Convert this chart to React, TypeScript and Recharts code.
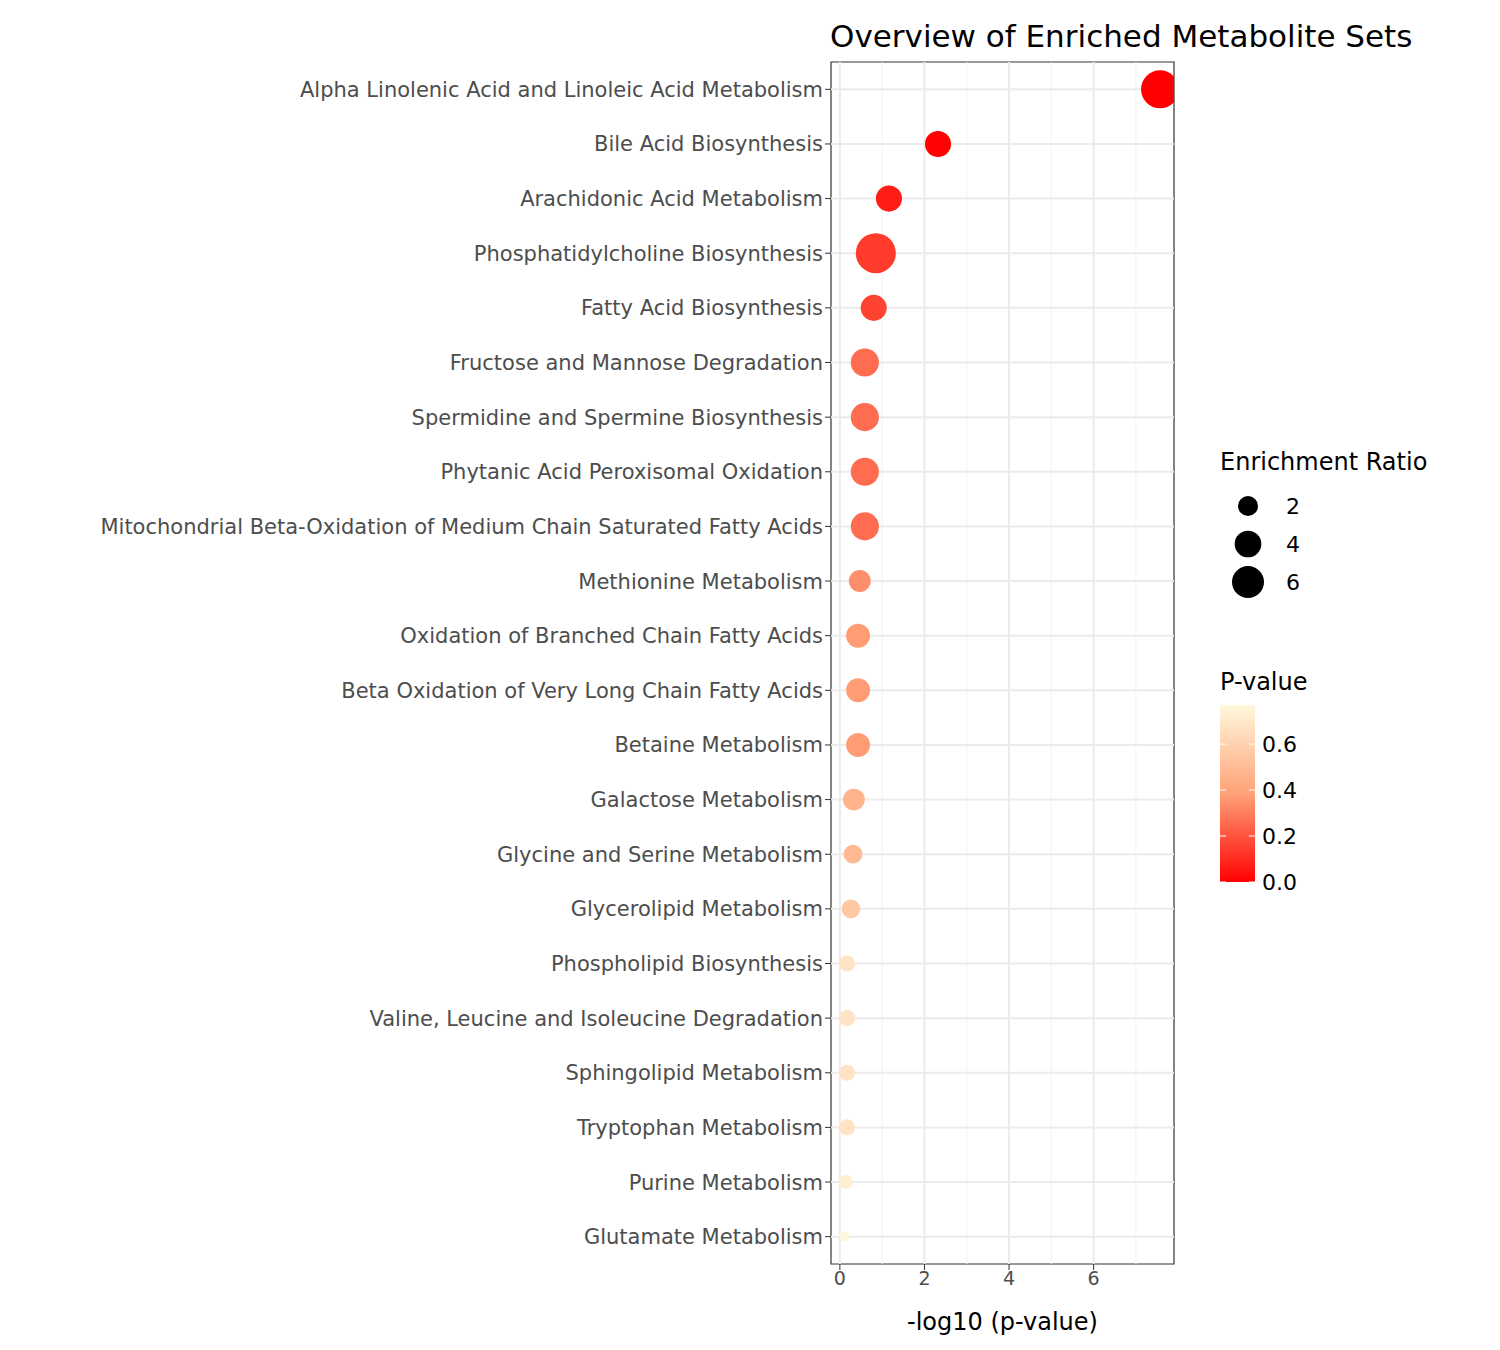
import React from 'react'
import {
  ScatterChart,
  Scatter,
  XAxis,
  YAxis,
  ReferenceLine,
  ReferenceArea,
} from 'recharts'

const pathways = [
  'Alpha Linolenic Acid and Linoleic Acid Metabolism',
  'Bile Acid Biosynthesis',
  'Arachidonic Acid Metabolism',
  'Phosphatidylcholine Biosynthesis',
  'Fatty Acid Biosynthesis',
  'Fructose and Mannose Degradation',
  'Spermidine and Spermine Biosynthesis',
  'Phytanic Acid Peroxisomal Oxidation',
  'Mitochondrial Beta-Oxidation of Medium Chain Saturated Fatty Acids',
  'Methionine Metabolism',
  'Oxidation of Branched Chain Fatty Acids',
  'Beta Oxidation of Very Long Chain Fatty Acids',
  'Betaine Metabolism',
  'Galactose Metabolism',
  'Glycine and Serine Metabolism',
  'Glycerolipid Metabolism',
  'Phospholipid Biosynthesis',
  'Valine, Leucine and Isoleucine Degradation',
  'Sphingolipid Metabolism',
  'Tryptophan Metabolism',
  'Purine Metabolism',
  'Glutamate Metabolism',
]
const negLogP = [7.57, 2.32, 1.16, 0.85, 0.8, 0.59, 0.59, 0.59, 0.59, 0.47, 0.43, 0.43, 0.43, 0.33, 0.31, 0.26, 0.17, 0.17, 0.17, 0.17, 0.14, 0.11]
const enrichment = [8.7, 3.8, 3.8, 9.7, 3.8, 4.5, 4.5, 4.5, 4.5, 2.5, 3.1, 3.1, 3.1, 2.5, 1.7, 1.7, 1.1, 1.1, 1.1, 1.1, 0.7, 0.1]
const sizeLegend = [2, 4, 6]
const colorTicks = [0.0, 0.2, 0.4, 0.6]
const xTicks = [0, 2, 4, 6]
const xMinor = [1, 3, 5, 7]

const P_MAX = 0.77
const radius = (er: number) => Math.sqrt(22 + 39 * er)
const lerp = (a: number, b: number, t: number) => Math.round(a + (b - a) * t)
const LOW = [255, 0, 0]
const MID = [255, 162, 120]
const HIGH = [255, 248, 220]
const colorOf = (p: number) => {
  const t = Math.min(1, Math.max(0, p / P_MAX))
  const [a, b, u] = t < 0.5 ? [LOW, MID, t * 2] : [MID, HIGH, (t - 0.5) * 2]
  return `rgb(${lerp(a[0], b[0], u)},${lerp(a[1], b[1], u)},${lerp(a[2], b[2], u)})`
}

const data = pathways.map((name, i) => ({
  name,
  x: negLogP[i],
  er: enrichment[i],
  p: Math.pow(10, -negLogP[i]),
}))

const Dot = (props: any) => {
  const { cx, cy, payload } = props
  return <circle cx={cx} cy={cy} r={radius(payload.er)} fill={colorOf(payload.p)} />
}

const font = 'DejaVu Sans, sans-serif'

export default function App() {
  return (
    <div style={{ position: 'relative', width: 1484, height: 1334, fontFamily: font }}>
      <div style={{ position: 'absolute', left: 822, top: 10, fontSize: 31, color: '#000' }}>
        Overview of Enriched Metabolite Sets
      </div>
      <ScatterChart width={1180} height={1334} margin={{ top: 54, right: 14, bottom: 48, left: 0 }}>
        {xMinor.map((v) => (
          <ReferenceLine key={'m' + v} x={v} stroke="#F2F2F2" strokeWidth={1} />
        ))}
        {xTicks.map((v) => (
          <ReferenceLine key={'M' + v} x={v} stroke="#EBEBEB" strokeWidth={2} />
        ))}
        {pathways.map((c) => (
          <ReferenceLine key={c} y={c} stroke="#EBEBEB" strokeWidth={2} />
        ))}
        <XAxis
          type="number"
          dataKey="x"
          domain={[-0.21, 7.9]}
          ticks={xTicks}
          allowDataOverflow
          tick={{ fill: '#4D4D4D', fontSize: 19, fontFamily: font }}
          tickLine={{ stroke: '#333' }}
          axisLine={false}
          tickSize={6}
          label={{ value: '-log10 (p-value)', position: 'insideBottom', offset: -36, fill: '#000', fontSize: 24, fontFamily: font }}
        />
        <YAxis
          type="category"
          dataKey="name"
          ticks={pathways}
          reversed
          width={823}
          interval={0}
          tick={{ fill: '#4D4D4D', fontSize: 21, fontFamily: font }}
          tickLine={{ stroke: '#333' }}
          axisLine={false}
          tickSize={6}
        />
        <ReferenceArea x1={-0.21} x2={7.9} fill="none" stroke="#333" strokeWidth={1.2} ifOverflow="extendDomain" />
        <Scatter data={data} shape={Dot} isAnimationActive={false} />
      </ScatterChart>

      <div style={{ position: 'absolute', left: 1212, top: 440, fontSize: 24 }}>Enrichment Ratio</div>
      <svg style={{ position: 'absolute', left: 1212, top: 480 }} width={120} height={130}>
        {sizeLegend.map((v, i) => (
          <g key={v}>
            <circle cx={28} cy={18 + i * 38} r={radius(v)} fill="#000" />
            <text x={66} y={26 + i * 38} fontSize={22} fontFamily={font}>{v}</text>
          </g>
        ))}
      </svg>

      <div style={{ position: 'absolute', left: 1212, top: 660, fontSize: 24 }}>P-value</div>
      <svg style={{ position: 'absolute', left: 1204, top: 689 }} width={130} height={200}>
        <defs>
          <linearGradient id="pg" x1="0" y1="1" x2="0" y2="0">
            <stop offset="0%" stopColor={colorOf(0)} />
            <stop offset="50%" stopColor={colorOf(P_MAX / 2)} />
            <stop offset="100%" stopColor={colorOf(P_MAX)} />
          </linearGradient>
        </defs>
        <rect x={8} y={8} width={35} height={177} fill="url(#pg)" />
        {colorTicks.map((v) => {
          const y = 185 - (v / P_MAX) * 177
          return (
            <g key={v}>
              <line x1={8} x2={14} y1={y} y2={y} stroke="#fff" />
              <line x1={37} x2={43} y1={y} y2={y} stroke="#fff" />
              <text x={50} y={y + 8} fontSize={22} fontFamily={font}>{v.toFixed(1)}</text>
            </g>
          )
        })}
      </svg>
    </div>
  )
}
